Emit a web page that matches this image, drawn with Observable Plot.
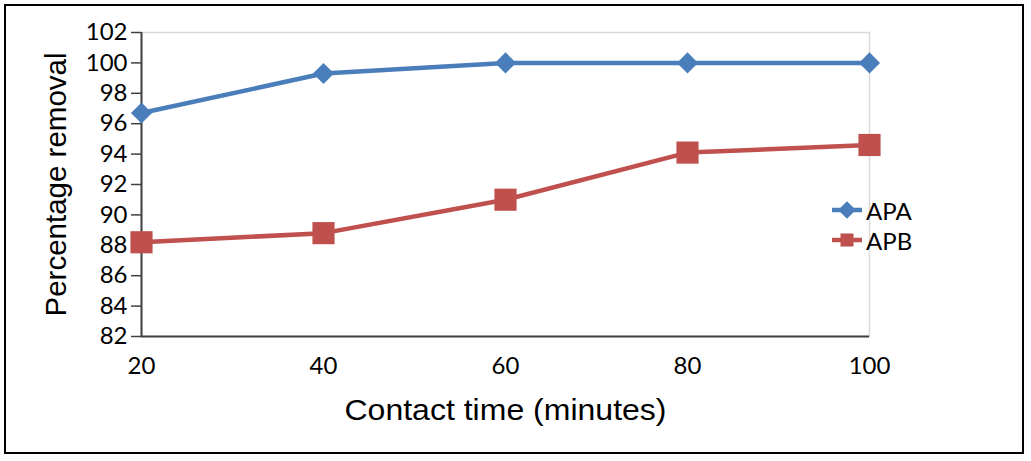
<!DOCTYPE html>
<html><head><meta charset="utf-8">
<script src="https://cdn.jsdelivr.net/npm/d3@7"></script>
<script src="https://cdn.jsdelivr.net/npm/@observablehq/plot@0.6"></script>
<style>
body{margin:0;background:#fff;}
#wrap{position:relative;width:1031px;height:461px;overflow:hidden;}
#border{position:absolute;left:4px;top:4px;width:1016px;height:446px;border:2px solid #000;pointer-events:none;}
.lg{position:absolute;left:832px;height:30px;display:flex;align-items:center;font-family:Lato,sans-serif;font-size:24px;color:#000;}
.lg svg{margin-right:4px;}
</style></head><body>
<div id="wrap"><div id="chart"></div><div id="border"></div></div>
<script>
const times = [20, 40, 60, 80, 100];
const apa = [96.7, 99.3, 100, 100, 100];
const apb = [88.2, 88.8, 91.0, 94.1, 94.6];
const seriesNames = ["APA", "APB"];
const seriesColors = ["#4a7ebb", "#c0504d"];
const seriesSymbols = ["diamond2", "square"];
const yTicks = [82, 84, 86, 88, 90, 92, 94, 96, 98, 100, 102];
const xTicks = [20, 40, 60, 80, 100];
const xTitle = "Contact time (minutes)";
const yTitle = "Percentage removal";

const data = [];
times.forEach((t, i) => data.push({time: t, value: apa[i], series: "APA"}));
times.forEach((t, i) => data.push({time: t, value: apb[i], series: "APB"}));

const axisColor = "#404040";
const tickFont = "Lato, sans-serif";
const chart = Plot.plot({
  width: 1031, height: 461,
  marginLeft: 141, marginRight: 162, marginTop: 32, marginBottom: 125,
  style: {fontFamily: tickFont, color: "#000", background: "transparent"},
  x: {domain: [20, 100]},
  y: {domain: [82, 102]},
  color: {domain: seriesNames, range: seriesColors},
  symbol: {domain: seriesNames, range: seriesSymbols},
  marks: [
    Plot.frame({stroke: "#d9d9d9", strokeWidth: 1.5}),
    Plot.axisX({ticks: xTicks, tickSize: 0, tickPadding: 20, label: null, fontSize: 24, fontFamily: tickFont, tickFormat: d => String(d)}),
    Plot.axisY({ticks: yTicks, tickSize: 10, tickPadding: 4, label: null, fontSize: 24, fontFamily: tickFont, stroke: axisColor, strokeWidth: 1.5, strokeOpacity: 1, tickFormat: d => String(d)}),
    Plot.ruleX([20], {stroke: axisColor, strokeWidth: 2}),
    Plot.ruleY([82], {stroke: axisColor, strokeWidth: 2, x1: 20, x2: 100}),
    Plot.line(data, {x: "time", y: "value", z: "series", stroke: "series", strokeWidth: 4.5}),
    Plot.dot(data.filter(d => d.series === "APA"), {x: "time", y: "value", symbol: "series", fill: "series", stroke: null, r: 9.5}),
    Plot.dot(data.filter(d => d.series === "APB"), {x: "time", y: "value", symbol: "series", fill: "series", stroke: null, r: 12.5}),
    Plot.text([yTitle], {frameAnchor: "left", rotate: -90, textAnchor: "middle", lineAnchor: "bottom", dx: -76, fontFamily: "Liberation Sans, Arial, sans-serif", fontSize: 30, fill: "#000", className: "ytitle"}),
    Plot.text([xTitle], {frameAnchor: "bottom", textAnchor: "middle", lineAnchor: "bottom", dy: 83, fontFamily: "Liberation Sans, Arial, sans-serif", fontSize: 29, fill: "#000", className: "xtitle"})
  ]
});
document.getElementById("chart").appendChild(chart);
// stretch titles to the reference's widths
const xt = chart.querySelector(".xtitle text");
if (xt) { xt.setAttribute("textLength", 322); xt.setAttribute("lengthAdjust", "spacingAndGlyphs"); }
const yt = chart.querySelector(".ytitle text");
if (yt) { yt.setAttribute("textLength", 264); yt.setAttribute("lengthAdjust", "spacingAndGlyphs"); }

// legend
const wrap = document.getElementById("wrap");
const legendCenters = [210, 240];
seriesNames.forEach((name, i) => {
  const row = document.createElement("div");
  row.className = "lg";
  row.style.top = (legendCenters[i] - 15) + "px";
  const ns = "http://www.w3.org/2000/svg";
  const svg = document.createElementNS(ns, "svg");
  svg.setAttribute("width", 30); svg.setAttribute("height", 30);
  const ln = document.createElementNS(ns, "line");
  ln.setAttribute("x1", 0); ln.setAttribute("x2", 30); ln.setAttribute("y1", 15); ln.setAttribute("y2", 15);
  ln.setAttribute("stroke", seriesColors[i]); ln.setAttribute("stroke-width", 4.5);
  svg.appendChild(ln);
  const p = document.createElementNS(ns, "path");
  const sym = i === 0 ? d3.symbolDiamond2 : d3.symbolSquare;
  p.setAttribute("d", d3.symbol(sym, i === 0 ? 200 : 170)());
  p.setAttribute("transform", "translate(15,15)");
  p.setAttribute("fill", seriesColors[i]);
  svg.appendChild(p);
  row.appendChild(svg);
  const sp = document.createElement("span");
  sp.textContent = name;
  row.appendChild(sp);
  wrap.appendChild(row);
});
</script>
</body></html>
